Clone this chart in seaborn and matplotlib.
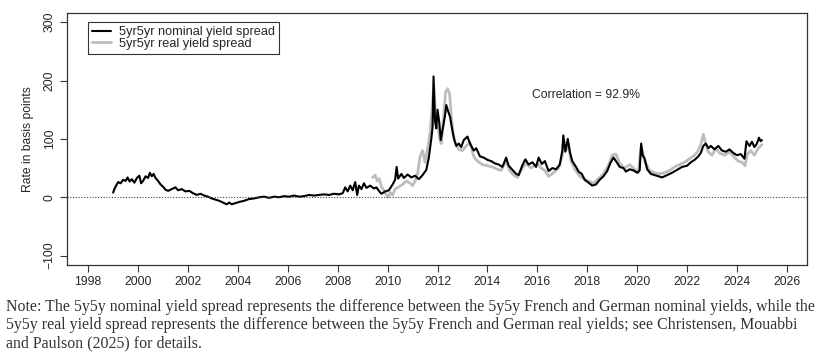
import numpy as np
import pandas as pd
import matplotlib
matplotlib.use("Agg")
import matplotlib.pyplot as plt
import seaborn as sns

# 5yr5yr nominal yield spread (bp)
nominal_year = [
    1999.00, 1999.05, 1999.12, 1999.20, 1999.30, 1999.40, 1999.50, 1999.58, 1999.66, 1999.75,
    1999.85, 1999.95, 2000.05, 2000.12, 2000.20, 2000.30, 2000.40, 2000.47, 2000.55, 2000.62,
    2000.70, 2000.80, 2000.90, 2001.00, 2001.10, 2001.20, 2001.35, 2001.50, 2001.60, 2001.75,
    2001.90, 2002.05, 2002.20, 2002.35, 2002.50, 2002.65, 2002.80, 2002.95, 2003.10, 2003.25,
    2003.40, 2003.55, 2003.65, 2003.75, 2003.90, 2004.05, 2004.25, 2004.45, 2004.65, 2004.85,
    2005.05, 2005.25, 2005.45, 2005.65, 2005.85, 2006.05, 2006.25, 2006.45, 2006.65, 2006.85,
    2007.05, 2007.25, 2007.45, 2007.65, 2007.85, 2008.05, 2008.20, 2008.30, 2008.40, 2008.50,
    2008.60, 2008.70, 2008.78, 2008.85, 2008.95, 2009.05, 2009.15, 2009.30, 2009.45, 2009.55,
    2009.65, 2009.75, 2009.90, 2010.05, 2010.20, 2010.30, 2010.36, 2010.42, 2010.55, 2010.65,
    2010.80, 2010.95, 2011.10, 2011.25, 2011.40, 2011.55, 2011.65, 2011.75, 2011.80, 2011.84,
    2011.90, 2011.95, 2012.00, 2012.07, 2012.13, 2012.22, 2012.30, 2012.35, 2012.42, 2012.50,
    2012.58, 2012.66, 2012.75, 2012.85, 2012.95, 2013.05, 2013.20, 2013.30, 2013.45, 2013.55,
    2013.70, 2013.85, 2014.00, 2014.15, 2014.30, 2014.45, 2014.60, 2014.75, 2014.85, 2015.00,
    2015.15, 2015.25, 2015.40, 2015.52, 2015.65, 2015.80, 2015.95, 2016.05, 2016.18, 2016.30,
    2016.45, 2016.60, 2016.75, 2016.90, 2017.00, 2017.04, 2017.12, 2017.22, 2017.30, 2017.40,
    2017.55, 2017.65, 2017.78, 2017.90, 2018.05, 2018.20, 2018.35, 2018.50, 2018.65, 2018.80,
    2018.92, 2019.05, 2019.15, 2019.30, 2019.45, 2019.55, 2019.70, 2019.85, 2020.00, 2020.10,
    2020.16, 2020.22, 2020.30, 2020.40, 2020.55, 2020.70, 2020.85, 2021.00, 2021.20, 2021.40,
    2021.60, 2021.80, 2022.00, 2022.15, 2022.30, 2022.45, 2022.55, 2022.65, 2022.75, 2022.85,
    2022.95, 2023.10, 2023.25, 2023.40, 2023.55, 2023.70, 2023.85, 2024.00, 2024.15, 2024.30,
    2024.38, 2024.50, 2024.60, 2024.70, 2024.80, 2024.88, 2024.95, 2025.00,
]
nominal_bp = [
    8, 14, 20, 26, 24, 30, 28, 34, 27, 31,
    25, 33, 37, 24, 28, 36, 33, 42, 36, 40,
    33, 28, 22, 18, 13, 11, 14, 17, 12, 14,
    10, 11, 7, 4, 6, 3, 1, -2, -4, -6,
    -9, -12, -9, -12, -10, -8, -6, -3, -2, 0,
    1, -1, 1, 0, 2, 1, 3, 1, 2, 4,
    3, 4, 5, 4, 6, 5, 7, 17, 10, 20,
    12, 26, 4, 20, 14, 24, 16, 20, 15, 17,
    11, 6, 10, 12, 22, 30, 52, 32, 40, 33,
    39, 34, 37, 31, 38, 47, 68, 100, 120, 207,
    130, 118, 150, 128, 98, 120, 140, 158, 148, 138,
    118, 100, 88, 92, 86, 98, 104, 92, 80, 84,
    70, 68, 64, 62, 58, 56, 52, 68, 54, 47,
    40, 38, 55, 65, 56, 60, 52, 68, 57, 62,
    45, 50, 48, 56, 80, 106, 78, 100, 78, 62,
    52, 44, 40, 30, 25, 20, 22, 30, 36, 45,
    58, 68, 62, 52, 50, 44, 48, 46, 42, 46,
    92, 72, 66, 48, 40, 38, 36, 34, 38, 42,
    47, 52, 54, 60, 64, 70, 76, 88, 92, 84,
    88, 82, 88, 80, 78, 82, 76, 72, 74, 66,
    96, 88, 95, 86, 92, 102, 96, 98,
]

# 5yr5yr real yield spread (bp)
real_year = [
    2009.40, 2009.50, 2009.58, 2009.66, 2009.75, 2009.85, 2009.95, 2010.02, 2010.10, 2010.20,
    2010.30, 2010.45, 2010.60, 2010.75, 2010.90, 2011.00, 2011.10, 2011.20, 2011.30, 2011.40,
    2011.50, 2011.60, 2011.70, 2011.78, 2011.85, 2011.92, 2012.00, 2012.08, 2012.15, 2012.25,
    2012.32, 2012.40, 2012.48, 2012.55, 2012.62, 2012.72, 2012.85, 2013.00, 2013.15, 2013.30,
    2013.45, 2013.60, 2013.80, 2014.00, 2014.20, 2014.40, 2014.55, 2014.75, 2014.90, 2015.05,
    2015.20, 2015.40, 2015.55, 2015.75, 2016.00, 2016.15, 2016.30, 2016.45, 2016.65, 2016.85,
    2017.00, 2017.05, 2017.15, 2017.25, 2017.35, 2017.50, 2017.70, 2017.90, 2018.05, 2018.25,
    2018.45, 2018.65, 2018.85, 2019.00, 2019.15, 2019.30, 2019.50, 2019.70, 2019.90, 2020.05,
    2020.15, 2020.22, 2020.32, 2020.50, 2020.70, 2020.90, 2021.10, 2021.30, 2021.50, 2021.70,
    2021.90, 2022.10, 2022.30, 2022.45, 2022.55, 2022.65, 2022.72, 2022.85, 2023.00, 2023.15,
    2023.30, 2023.50, 2023.70, 2023.90, 2024.05, 2024.20, 2024.32, 2024.42, 2024.55, 2024.70,
    2024.85, 2025.00,
]
real_bp = [
    34, 38, 28, 32, 18, 12, 4, 0, 8, 4,
    14, 18, 22, 28, 24, 20, 28, 40, 70, 80,
    60, 82, 110, 150, 190, 140, 130, 100, 92, 140,
    180, 186, 178, 140, 110, 92, 82, 80, 88, 94,
    70, 62, 56, 54, 52, 48, 46, 62, 45, 38,
    34, 50, 58, 50, 58, 50, 46, 36, 42, 50,
    72, 100, 80, 92, 62, 48, 36, 30, 28, 24,
    32, 40, 55, 72, 74, 58, 50, 56, 48, 42,
    85, 78, 60, 46, 42, 40, 42, 46, 52, 56,
    60, 66, 72, 80, 90, 108, 96, 78, 72, 84,
    76, 72, 78, 68, 62, 60, 54, 74, 80, 72,
    84, 90,
]

x_ticks = list(range(1998, 2027, 2))
y_ticks = [-100, 0, 100, 200, 300]
correlation_label = "Correlation = 92.9%"
note = ("Note: The 5y5y nominal yield spread represents the difference between the 5y5y French and German nominal yields, while the\n"
        "5y5y real yield spread represents the difference between the 5y5y French and German real yields; see Christensen, Mouabbi\n"
        "and Paulson (2025) for details.")

nom = pd.DataFrame({"year": nominal_year, "bp": nominal_bp})
real = pd.DataFrame({"year": real_year, "bp": real_bp})

sns.set_style("white")
plt.rcParams["font.family"] = ["Liberation Sans", "DejaVu Sans"]

fig = plt.figure(figsize=(8.25, 3.55), dpi=100)
ax = fig.add_axes([0.0812, 0.2535, 0.8968, 0.7105])

sns.lineplot(data=real, x="year", y="bp", ax=ax, color="#bdbdbd", lw=2.0, label="5yr5yr real yield spread")
sns.lineplot(data=nom, x="year", y="bp", ax=ax, color="black", lw=1.5, label="5yr5yr nominal yield spread")
ax.axhline(0, color="#444444", lw=0.8, ls=(0, (1, 1.5)))

ax.set_xlim(1997.15, 2026.8)
ax.set_ylim(-116, 316)
ax.set_xticks(x_ticks)
ax.set_yticks(y_ticks)
ax.set_yticklabels([str(v).replace("-", "\u2212") for v in y_ticks], rotation=90, va="center")
ax.tick_params(axis="both", direction="out", length=5, width=0.8, color="#333333",
               labelsize=8.7, pad=3, bottom=True, left=True)
ax.set_xlabel("")
ax.set_ylabel("Rate in basis points", fontsize=8.7, labelpad=7)
for s in ax.spines.values():
    s.set_color("#333333")
    s.set_linewidth(0.9)

ax.text(2017.93, 175, correlation_label, ha="center", va="center", fontsize=8.7)

h, l = ax.get_legend_handles_labels()
leg = ax.legend(h[::-1], l[::-1], loc="upper left", bbox_to_anchor=(0.028, 0.963), fontsize=9.2,
                frameon=True, fancybox=False, edgecolor="black", borderaxespad=0,
                labelspacing=-0.04, handlelength=1.5, handletextpad=0.65, borderpad=0.32)
leg.get_frame().set_linewidth(0.8)

fig.text(0.007, 0.158, note, ha="left", va="top", fontsize=11.4,
         family=["Liberation Serif", "DejaVu Serif"], color="#333333", linespacing=1.2)

fig.savefig("out.png", dpi=100)
